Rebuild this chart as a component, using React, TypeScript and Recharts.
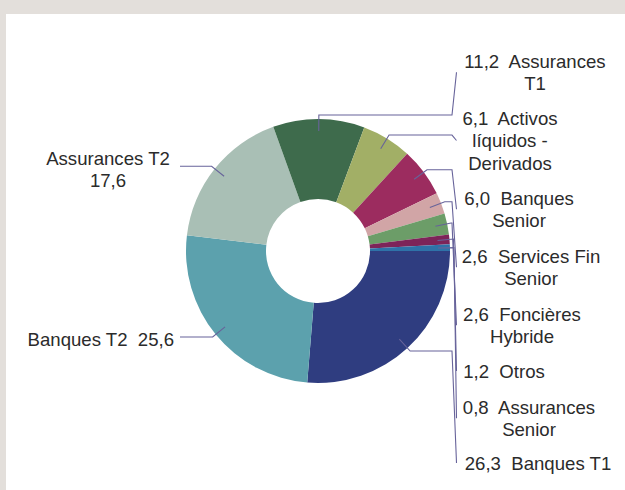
import { Cell, Pie, PieChart } from 'recharts';

const categories = [
  'Banques T1',
  'Banques T2',
  'Assurances T2',
  'Assurances T1',
  'Activos líquidos - Derivados',
  'Banques Senior',
  'Services Fin Senior',
  'Foncières Hybride',
  'Otros',
  'Assurances Senior',
];
const shares = [26.3, 25.6, 17.6, 11.2, 6.1, 6.0, 2.6, 2.6, 1.2, 0.8];
// how each name is broken over lines in its label
const labelNames = [
  'Banques T1',
  'Banques T2',
  'Assurances T2',
  'Assurances\nT1',
  'Activos\nlíquidos -\nDerivados',
  'Banques\nSenior',
  'Services Fin\nSenior',
  'Foncières\nHybride',
  'Otros',
  'Assurances\nSenior',
];
const colors = [
  '#2f3d80',
  '#5ca1ad',
  '#a9bfb5',
  '#3e6b4c',
  '#a2af66',
  '#9c2c5f',
  '#d1a5a6',
  '#6c9d68',
  '#7d2459',
  '#2f72a8',
];

// label placement: side, text x, first line centre y
const labelPos = [
  { side: 'right', x: 538, y: 463 },
  { side: 'left', x: 174, y: 339, inline: true },
  { side: 'left', x: 108, y: 158 },
  { side: 'right', x: 535, y: 61 },
  { side: 'right', x: 510, y: 118 },
  { side: 'right', x: 519, y: 198 },
  { side: 'right', x: 531, y: 256 },
  { side: 'right', x: 522, y: 314 },
  { side: 'right', x: 504, y: 371 },
  { side: 'right', x: 529, y: 407 },
];

const data = categories.map((name, i) => ({ name, value: shares[i] }));

const RADIAN = Math.PI / 180;
const LINE_H = 22.5;
const TEXT = '#2b2b2b';
const LEADER = '#67639a';

const fmt = (v: number) => v.toFixed(1).replace('.', ',');

function renderLabel(props: any) {
  const { cx, cy, midAngle, outerRadius, index, value } = props;
  const pos = labelPos[index];
  const pt = (r: number) => [
    cx + r * Math.cos(-midAngle * RADIAN),
    cy + r * Math.sin(-midAngle * RADIAN),
  ];
  const [sx, sy] = pt(outerRadius - 12);
  const [ex, ey] = pt(outerRadius + 4);

  let lines: string[];
  let anchor: 'start' | 'middle' | 'end' = 'middle';
  if (pos.side === 'right') {
    const parts = labelNames[index].split('\n');
    lines = [`${fmt(value)}  ${parts[0]}`, ...parts.slice(1)];
  } else if (pos.inline) {
    lines = [`${labelNames[index]}  ${fmt(value)}`];
    anchor = 'end';
  } else {
    lines = [labelNames[index], fmt(value)];
  }

  let points: number[][];
  if (pos.side === 'right') {
    const midY = pos.y + ((lines.length - 1) * LINE_H) / 2;
    points = [[sx, sy], [ex, ey]];
    if (ex < 452) points.push([452, ey]);
    points.push([456.5, midY]);
  } else {
    points = [[sx, sy], [ex, ey], [180, ey]];
  }

  return (
    <g>
      <polyline
        points={points.map((p) => p.join(',')).join(' ')}
        fill="none"
        stroke={LEADER}
        strokeWidth={1.1}
      />
      <text
        x={pos.x}
        y={pos.y}
        textAnchor={anchor}
        fill={TEXT}
        fontSize={18.6}
        fontFamily="'Liberation Sans', Arial, sans-serif"
        style={{ whiteSpace: 'pre' }}
      >
        {lines.map((l, i) => (
          <tspan key={i} x={pos.x} y={pos.y + i * LINE_H} dominantBaseline="central">
            {l}
          </tspan>
        ))}
      </text>
    </g>
  );
}

export default function App() {
  return (
    <div
      style={{
        position: 'absolute',
        left: 0,
        top: 0,
        width: 625,
        height: 490,
        background: '#e3dfdb',
        overflow: 'hidden',
      }}
    >
      <div
        style={{
          position: 'absolute',
          left: 6,
          top: 14,
          width: 619,
          height: 476,
          background: '#ffffff',
        }}
      />
      <div style={{ position: 'absolute', left: 0, top: 0 }}>
        <PieChart width={625} height={490} margin={{ top: 0, right: 0, bottom: 0, left: 0 }}>
          <Pie
            data={data}
            dataKey="value"
            nameKey="name"
            cx={318}
            cy={251}
            innerRadius={52}
            outerRadius={132}
            startAngle={0}
            endAngle={-360}
            stroke="none"
            label={renderLabel}
            labelLine={false}
            isAnimationActive={false}
          >
            {data.map((d, i) => (
              <Cell key={d.name} fill={colors[i]} />
            ))}
          </Pie>
        </PieChart>
      </div>
    </div>
  );
}
